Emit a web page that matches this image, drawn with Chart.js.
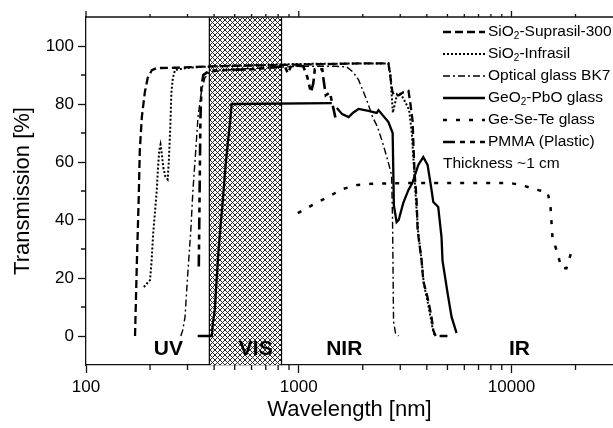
<!DOCTYPE html>
<html><head><meta charset="utf-8">
<script src="https://cdn.jsdelivr.net/npm/chart.js@4.4.1/dist/chart.umd.min.js"></script>
<style>html,body{margin:0;padding:0;background:#fff;}#wrap{width:613px;height:428px;position:relative;}</style>
</head><body><div id="wrap"><canvas id="c" width="613" height="428"></canvas></div>
<script>
// ---- data ----
const xMajorTicks = [100, 1000, 10000];
const xMinorTicks = [200,300,400,500,600,700,800,900,2000,3000,4000,5000,6000,7000,8000,9000,20000];
const yMajorTicks = [0, 20, 40, 60, 80, 100];
const yMinorTicks = [10, 30, 50, 70, 90];
const visBand = [380, 830];
const regionLabels = ['UV', 'VIS', 'NIR', 'IR'];
const regionWavelengths = [244, 628, 1636, 10900];
const regionLevel = -4.5;
const seriesNames = ['SiO_2-Suprasil-300', 'SiO_2-Infrasil', 'Optical glass BK7', 'GeO_2-PbO glass', 'Ge-Se-Te glass', 'PMMA (Plastic)'];
const noteText = 'Thickness ~1 cm';

const suprasil = [[170,0],[173.5,26],[177,48],[179,64],[183,75.5],[189,84],[195,89],[204,91.7],[215,92.4],[260,92.5],[400,93],[1000,93.6],[2000,94],[2640,94],[2700,89],[2750,84.5],[2800,83],[2950,83],[3100,84],[3280,84.5],[3350,80],[3430,74],[3460,66],[3500,57],[3580,47],[3620,36.5],[3780,26],[3850,19],[4030,13.4],[4210,6.5],[4290,2],[4400,0],[5000,0]];
const infrasil = [[187,16.9],[200,19.3],[203,25],[207,35.5],[215,50],[218,58],[221,64],[224,66],[227,63],[231,58],[236,55],[242,54],[245,60],[249,72],[252,84],[256,89],[262,91.7],[300,92.5],[400,93],[1000,93.8],[2000,94],[2640,94],[2700,90],[2740,82],[2770,77],[2830,80],[2900,83.5],[3000,83.5],[3100,82],[3200,80],[3300,78],[3400,70],[3480,58],[3560,46],[3640,36],[3780,26],[3870,18],[4030,12],[4200,5],[4300,1],[4400,0]];
const bk7 = [[279,0],[285,2],[292,6.5],[301,21.7],[311,36.5],[318,50],[328,64],[336,75.5],[350,85],[362,89],[380,91],[500,92],[1000,93],[1500,93],[1680,92.8],[1800,91],[1911,88.3],[2086,81.4],[2225,75.5],[2348,72],[2480,66.6],[2617,60.7],[2732,55.5],[2760,40],[2790,5],[2850,1],[2940,0]];
const geo2pbo = [[335,0],[390,0],[395,4.5],[403,9],[420,30],[440,47],[452,58],[464,66.5],[476,74],[484,80],[1430,80.3],[1470,null],[1510,78.6],[1600,76.5],[1716,75.5],[1800,77],[1911,78.3],[2128,77.6],[2324,76.9],[2370,77.9],[2640,73.8],[2763,70],[2800,45],[2884,39.3],[2950,40],[3100,45.9],[3275,50.3],[3430,53],[3647,59],[3849,61.7],[4033,59],[4210,50.3],[4290,46.2],[4524,44.5],[4690,34],[4740,26],[5007,14.8],[5228,6.6],[5520,1]];
const geSeTe = [[990,42.4],[1163,45.2],[1368,47.9],[1609,50.7],[1892,52.1],[2200,52.5],[3000,52.7],[5000,52.8],[9790,52.8],[11140,52],[13380,50.3],[14760,49.7],[15240,45],[15580,34],[16440,28.6],[17170,23.4],[18130,23.4],[19130,29]];
const pmma = [[339,24],[342,50],[345,75],[349,86],[356,90],[380,91.5],[600,92],[860,93],[890,90.5],[925,93.5],[1050,93],[1100,89],[1140,84],[1170,87],[1190,92],[1290,92],[1310,88],[1340,83],[1400,84],[1450,79],[1500,74]];

const styles = [
  {dash:[8,4], width:2.3},
  {dash:[2,2], width:2},
  {dash:[7,3,2,3], width:1.4},
  {dash:[], width:2.3},
  {dash:[4,9], width:2.5},
  {dash:[12,5,5,5,5,5], width:2.6}
];
const seriesData = [suprasil, infrasil, bk7, geo2pbo, geSeTe, pmma];

const FONT = '"Liberation Sans", Arial, Helvetica, sans-serif';

function makePattern(ctx){
  const n = 5;
  const c = document.createElement('canvas'); c.width = n; c.height = n;
  const g = c.getContext('2d');
  const img = g.createImageData(n, n);
  for (let yy = 0; yy < n; yy++) for (let xx = 0; xx < n; xx++) {
    const i = (yy*n+xx)*4;
    const on = (xx === yy) || (xx + yy === n-1);
    const v = on ? 40 : 255;
    img.data[i]=v; img.data[i+1]=v; img.data[i+2]=v; img.data[i+3]=255;
  }
  g.putImageData(img, 0, 0);
  return ctx.createPattern(c, 'repeat');
}

function drawRich(ctx, text, x, y, size){
  const parts = text.split('_');
  let cx = x;
  parts.forEach((p, idx) => {
    let s = p;
    if (idx > 0) {
      const sub = p.charAt(0); s = p.slice(1);
      ctx.font = Math.round(size*0.65) + 'px ' + FONT;
      ctx.fillText(sub, cx, y + size*0.3);
      cx += ctx.measureText(sub).width;
    }
    ctx.font = size + 'px ' + FONT;
    ctx.fillText(s, cx, y);
    cx += ctx.measureText(s).width;
  });
}

const decorPlugin = {
  id: 'decor',
  beforeDatasetsDraw(chart){
    const {ctx, chartArea:a, scales:{x}} = chart;
    const x0 = x.getPixelForValue(visBand[0]), x1 = x.getPixelForValue(visBand[1]);
    ctx.save();
    ctx.fillStyle = makePattern(ctx);
    ctx.fillRect(x0, a.top, x1-x0, a.bottom-a.top);
    ctx.strokeStyle = '#000'; ctx.lineWidth = 1.2;
    ctx.beginPath();
    ctx.moveTo(x0, a.top); ctx.lineTo(x0, a.bottom);
    ctx.moveTo(x1, a.top); ctx.lineTo(x1, a.bottom);
    ctx.stroke();
    ctx.restore();
  },
  afterDatasetsDraw(chart){
    const {ctx, chartArea:a, scales:{x, y}} = chart;
    ctx.save();
    // region labels
    ctx.fillStyle = '#000';
    ctx.font = 'bold 21px ' + FONT;
    ctx.textAlign = 'center'; ctx.textBaseline = 'middle';
    regionLabels.forEach((t, i) => ctx.fillText(t, x.getPixelForValue(regionWavelengths[i]), y.getPixelForValue(regionLevel)));
    // minor ticks & top border
    ctx.strokeStyle = '#111'; ctx.lineWidth = 1.3; ctx.setLineDash([]);
    ctx.beginPath();
    xMinorTicks.forEach(v => { const px = x.getPixelForValue(v); ctx.moveTo(px, a.bottom); ctx.lineTo(px, a.bottom+5); ctx.moveTo(px, a.top); ctx.lineTo(px, a.top-3); });
    xMajorTicks.forEach(v => { const px = x.getPixelForValue(v); ctx.moveTo(px, a.top); ctx.lineTo(px, a.top-6); });
    yMinorTicks.forEach(v => { const py = y.getPixelForValue(v); ctx.moveTo(a.left, py); ctx.lineTo(a.left-5, py); });
    ctx.moveTo(a.left, a.top); ctx.lineTo(a.right, a.top);
    ctx.stroke();
    // legend
    const lx0 = 443, lx1 = 485, tx = 488;
    let ly = 32;
    ctx.textAlign = 'left'; ctx.textBaseline = 'middle';
    chart.data.datasets.forEach((ds, i) => {
      ctx.strokeStyle = '#000'; ctx.lineWidth = ds.borderWidth; ctx.setLineDash(ds.borderDash);
      ctx.beginPath(); ctx.moveTo(lx0, ly); ctx.lineTo(lx1, ly); ctx.stroke();
      ctx.setLineDash([]);
      drawRich(ctx, seriesNames[i], tx, ly, 15.5);
      ly += 22;
    });
    ctx.font = '15.5px ' + FONT;
    ctx.fillText(noteText, lx0, ly);
    ctx.restore();
  }
};

const datasets = seriesData.map((d, i) => ({
  label: seriesNames[i].replace('_',''),
  data: d.map(p => ({x: p[0], y: p[1]})),
  showLine: true, fill: false, tension: 0, spanGaps: false,
  borderColor: '#000', borderWidth: styles[i].width, borderDash: styles[i].dash,
  pointRadius: 0, pointHoverRadius: 0
}));

new Chart(document.getElementById('c'), {
  type: 'scatter',
  data: {datasets},
  options: {
    responsive: false, animation: false, devicePixelRatio: 1,
    layout: {padding: {top: 17, right: 0, left: 0, bottom: 0}},
    plugins: {legend: {display: false}, tooltip: {enabled: false}},
    scales: {
      x: {
        type: 'logarithmic', min: 100, max: 30000, position: 'bottom',
        afterBuildTicks: s => { s.ticks = xMajorTicks.map(v => ({value: v})); },
        afterFit: s => { s.height = 63; },
        grid: {display: true, drawOnChartArea: false, drawTicks: true, tickLength: 8, tickColor: '#111', tickWidth: 1.3},
        border: {display: true, color: '#111', width: 1.3},
        ticks: {color: '#000', font: {family: FONT, size: 17}, padding: 4, maxRotation: 0, autoSkip: false, callback: v => String(v)},
        title: {display: true, text: 'Wavelength [nm]', color: '#000', font: {family: FONT, size: 22}, padding: {top: 0, bottom: 5}}
      },
      y: {
        type: 'linear', min: -10, max: 110, position: 'left',
        afterBuildTicks: s => { s.ticks = yMajorTicks.map(v => ({value: v})); },
        afterFit: s => { s.width = 86; },
        grid: {display: true, drawOnChartArea: false, drawTicks: true, tickLength: 8, tickColor: '#111', tickWidth: 1.3},
        border: {display: true, color: '#111', width: 1.3},
        ticks: {color: '#000', font: {family: FONT, size: 17}, padding: 4, callback: v => String(v)},
        title: {display: true, text: 'Transmission [%]', color: '#000', font: {family: FONT, size: 22}, padding: {top: 10, bottom: 0}}
      }
    }
  },
  plugins: [decorPlugin]
});
</script>
</body></html>
